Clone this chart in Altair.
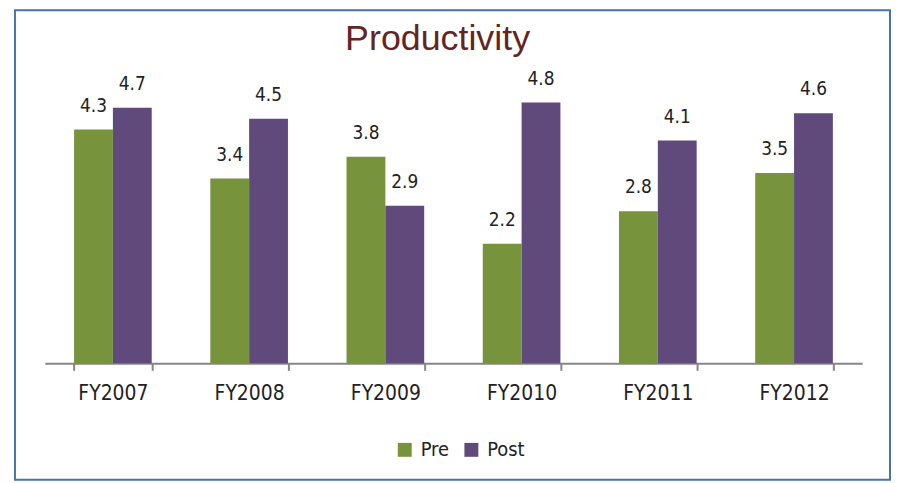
import altair as alt
import pandas as pd

years = ["FY2007", "FY2008", "FY2009", "FY2010", "FY2011", "FY2012"]
pre = [4.3, 3.4, 3.8, 2.2, 2.8, 3.5]
post = [4.7, 4.5, 2.9, 4.8, 4.1, 4.6]
series = ["Pre", "Post"]
colors = ["#77933C", "#604A7B"]
title_text = "Productivity"

rows = []
for yr, a, b in zip(years, pre, post):
    rows.append({"year": yr, "series": "Pre", "value": a})
    rows.append({"year": yr, "series": "Post", "value": b})
df = pd.DataFrame(rows)

FONT = "'DejaVu Sans Condensed', Roboto, sans-serif"

x = alt.X(
    "year:N", sort=years, title=None,
    scale=alt.Scale(paddingInner=0.43, paddingOuter=0.215),
    axis=alt.Axis(labelAngle=0, labelFont=FONT, labelFontSize=21, labelColor="#222222",
                  domainColor="#868686", domainWidth=2, tickColor="#868686", tickWidth=2,
                  tickSize=7, tickBand="extent", labelPadding=12),
)
y = alt.Y("value:Q", scale=alt.Scale(domain=[0, 6]), axis=None)
xo = alt.XOffset("series:N", sort=series, scale=alt.Scale(paddingInner=0, paddingOuter=0))
color = alt.Color(
    "series:N", sort=series,
    scale=alt.Scale(domain=series, range=colors),
    legend=alt.Legend(orient="none", legendX=352, legendY=405, direction="horizontal",
                      title=None, symbolType="square", symbolSize=196, symbolStrokeWidth=0,
                      symbolOpacity=1, labelFont=FONT, labelFontSize=20, labelColor="#222222",
                      labelOffset=6, columnPadding=12, padding=0),
)

border = alt.Chart(pd.DataFrame({"a": [0]})).mark_rect(
    filled=False, stroke="#4A72A6", strokeWidth=2
).encode(x=alt.value(-30), x2=alt.value(850), y=alt.value(-27), y2=alt.value(445))

title = alt.Chart(pd.DataFrame({"t": [title_text]})).mark_text(
    font="Liberation Sans", fontSize=36, color="#632523", align="center", baseline="alphabetic"
).encode(text="t:N", x=alt.value(395), y=alt.value(13))

bars = alt.Chart(df).mark_bar().encode(x=x, y=y, xOffset=xo, color=color)
labels = alt.Chart(df).mark_text(
    font=FONT, fontSize=19, color="#222222", dy=-18, baseline="alphabetic"
).encode(x=x, y=y, xOffset=xo, text=alt.Text("value:Q", format=".1f"))

chart = alt.layer(border, title, bars, labels).properties(
    width=822, height=328,
    autosize=alt.AutoSizeParams(type="none"),
    padding={"left": 37, "top": 28, "right": 30, "bottom": 119},
).configure_view(stroke=None)

chart.save("out.html", embed_options={"renderer": "svg", "actions": False})
